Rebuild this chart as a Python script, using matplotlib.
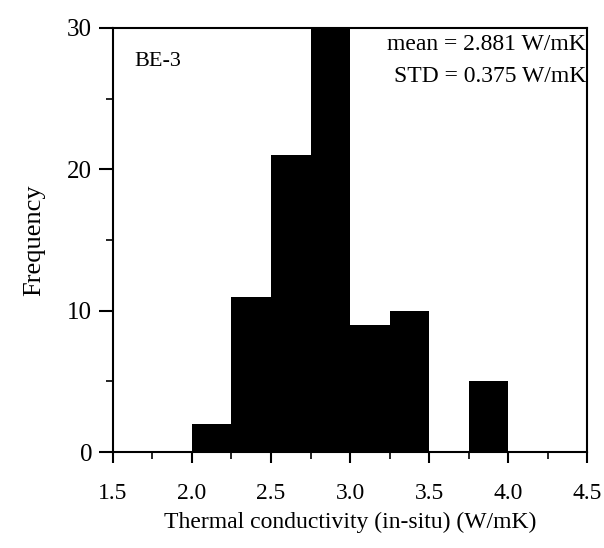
import matplotlib.pyplot as plt
from matplotlib.ticker import MultipleLocator

plt.rcParams['font.family'] = ['Liberation Serif', 'DejaVu Serif']

# histogram bins (W/mK) and counts
bin_edges = [2.0, 2.25, 2.5, 2.75, 3.0, 3.25, 3.5, 3.75, 4.0]
counts = [2, 11, 21, 30, 9, 10, 0, 5]

fig = plt.figure(figsize=(6.04, 5.48), dpi=100)
ax = fig.add_axes([0.187, 0.175, 0.785, 0.774])

lefts = bin_edges[:-1]
widths = [b - a for a, b in zip(bin_edges[:-1], bin_edges[1:])]
ax.bar(lefts, counts, width=widths, align='edge', color='black', edgecolor='black', linewidth=0)

ax.set_xlim(1.5, 4.5)
ax.set_ylim(0, 30)
ax.xaxis.set_major_locator(MultipleLocator(0.5))
ax.xaxis.set_minor_locator(MultipleLocator(0.25))
ax.yaxis.set_major_locator(MultipleLocator(10))
ax.yaxis.set_minor_locator(MultipleLocator(5))
ax.xaxis.set_major_formatter(plt.FuncFormatter(lambda v, p: f'{v:.1f}'))

ax.tick_params(axis='x', which='major', direction='out', length=8, width=1.5, labelsize=17, pad=14)
ax.tick_params(axis='x', which='minor', direction='out', length=5, width=1.2)
ax.tick_params(axis='y', which='major', direction='out', length=10, width=1.5, labelsize=18, pad=5)
ax.tick_params(axis='y', which='minor', direction='out', length=5, width=1.2)

for s in ax.spines.values():
    s.set_linewidth(1.5)

ax.set_xlabel('Thermal conductivity (in-situ) (W/mK)', fontsize=17, labelpad=6)
ax.set_ylabel('Frequency', fontsize=19, labelpad=16)

ax.text(0.045, 0.92, 'BE-3', transform=ax.transAxes, fontsize=16, va='center', ha='left')
ax.text(0.998, 0.96, 'mean = 2.881 W/mK', transform=ax.transAxes, fontsize=17, va='center', ha='right')
ax.text(0.998, 0.885, 'STD = 0.375 W/mK', transform=ax.transAxes, fontsize=17, va='center', ha='right')

fig.savefig('out.png', dpi=100)
